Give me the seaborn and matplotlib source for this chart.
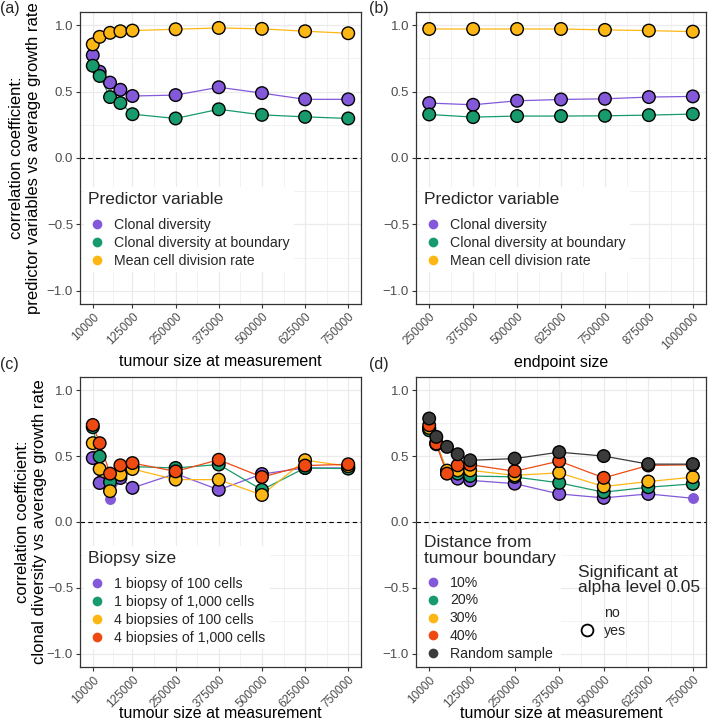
import matplotlib
matplotlib.use("Agg")
from matplotlib import pyplot as plt
from matplotlib.lines import Line2D
import seaborn as sns
import numpy as np
import pandas as pd

# ---- data ----
tumour_size = [10000, 30000, 60000, 90000, 125000, 250000, 375000, 500000, 625000, 750000]
endpoint_size = [250000, 375000, 500000, 625000, 750000, 875000, 1000000]
size_ticks = [10000, 125000, 250000, 375000, 500000, 625000, 750000]
endpoint_ticks = [250000, 375000, 500000, 625000, 750000, 875000, 1000000]

# (a) predictor variables vs tumour size
predictors = ["Clonal diversity", "Clonal diversity at boundary", "Mean cell division rate"]
a_clonal = [0.774, 0.650, 0.568, 0.514, 0.467, 0.474, 0.533, 0.489, 0.442, 0.442]
a_boundary = [0.695, 0.618, 0.459, 0.414, 0.330, 0.298, 0.367, 0.325, 0.310, 0.298]
a_division = [0.856, 0.913, 0.943, 0.955, 0.960, 0.970, 0.980, 0.973, 0.955, 0.940]

# (b) predictor variables vs endpoint size
b_clonal = [0.414, 0.401, 0.431, 0.441, 0.446, 0.459, 0.464]
b_boundary = [0.328, 0.308, 0.316, 0.316, 0.318, 0.323, 0.331]
b_division = [0.972, 0.972, 0.972, 0.972, 0.965, 0.960, 0.952]

# (c) biopsy size
biopsies = ["1 biopsy of 100 cells", "1 biopsy of 1,000 cells",
            "4 biopsies of 100 cells", "4 biopsies of 1,000 cells"]
c_1x100 = [0.485, 0.296, 0.176, 0.334, 0.259, 0.367, 0.244, 0.364, 0.410, 0.410]
c_1x1000 = [0.719, 0.497, 0.302, 0.360, 0.420, 0.410, 0.436, 0.244, 0.410, 0.405]
c_4x100 = [0.598, 0.402, 0.234, 0.359, 0.402, 0.322, 0.321, 0.205, 0.469, 0.423]
c_4x1000 = [0.736, 0.598, 0.367, 0.430, 0.447, 0.384, 0.472, 0.341, 0.428, 0.438]
c_1x100_sig = [1, 1, 0, 1, 1, 1, 1, 1, 1, 1]

# (d) distance from tumour boundary
distances = ["10%", "20%", "30%", "40%", "Random sample"]
d_10 = [0.710, 0.590, 0.370, 0.329, 0.316, 0.291, 0.213, 0.183, 0.213, 0.180]
d_20 = [0.696, 0.600, 0.385, 0.367, 0.349, 0.342, 0.297, 0.226, 0.264, 0.289]
d_30 = [0.714, 0.600, 0.390, 0.392, 0.392, 0.354, 0.373, 0.269, 0.307, 0.340]
d_40 = [0.734, 0.595, 0.367, 0.430, 0.435, 0.385, 0.462, 0.335, 0.429, 0.434]
d_random = [0.785, 0.646, 0.570, 0.514, 0.468, 0.481, 0.530, 0.500, 0.439, 0.439]
d_10_sig = [1, 1, 1, 1, 1, 1, 1, 1, 1, 0]

purple, green, yellow, red, dark = "#8359DA", "#189B6C", "#FDB714", "#EE4A12", "#3B3B3B"


def long_df(x, series, names, sig=None):
    rows = []
    for name, vals in zip(names, series):
        s = sig.get(name, [1] * len(vals)) if sig else [1] * len(vals)
        for xi, v, si in zip(x, vals, s):
            rows.append({"x": xi, "r": v, "group": name, "sig": bool(si)})
    return pd.DataFrame(rows)


df_a = long_df(tumour_size, [a_clonal, a_boundary, a_division], predictors)
df_b = long_df(endpoint_size, [b_clonal, b_boundary, b_division], predictors)
df_c = long_df(tumour_size, [c_1x100, c_1x1000, c_4x100, c_4x1000], biopsies,
               {biopsies[0]: c_1x100_sig})
df_d = long_df(tumour_size, [d_10, d_20, d_30, d_40, d_random], distances,
               {distances[0]: d_10_sig})

sns.set_theme(style="white")
plt.rcParams["font.family"] = ["Liberation Sans", "DejaVu Sans"]

fig = plt.figure(figsize=(7.09, 7.25), dpi=100)
W, H = 709, 725


def box(l, t, r, b):
    return [l / W, 1 - b / H, (r - l) / W, (b - t) / H]


ax_a = fig.add_axes(box(80, 12, 361, 304))
ax_b = fig.add_axes(box(416, 12, 706, 304))
ax_c = fig.add_axes(box(80, 377, 361, 667))
ax_d = fig.add_axes(box(416, 377, 706, 667))


def panel(ax, df, names, colors, ticks, xlabel, xlab_y, ylabel=None, ylab_x=None):
    pal = dict(zip(names, colors))
    lo, hi = min(ticks), max(ticks)
    pad = (hi - lo) * 0.05
    minor = [(ticks[i] + ticks[i + 1]) / 2 for i in range(len(ticks) - 1)]
    ax.set_xticks(minor, minor=True)
    ax.set_yticks([-0.75, -0.25, 0.25, 0.75], minor=True)
    ax.grid(True, which="major", color="#EBEBEB", lw=0.9, zorder=0)
    ax.grid(True, which="minor", color="#EBEBEB", lw=0.45, zorder=0)
    ax.set_axisbelow(True)
    ax.axhline(0, color="black", ls=(0, (4, 3)), lw=0.8, zorder=1)
    sns.lineplot(data=df, x="x", y="r", hue="group", hue_order=names, palette=pal,
                 lw=0.9, legend=False, ax=ax, estimator=None, sort=False, zorder=2)
    ns = df[~df["sig"]]
    if len(ns):
        sns.scatterplot(data=ns, x="x", y="r", hue="group", hue_order=names, palette=pal,
                        s=62, linewidth=0, legend=False, ax=ax, zorder=3)
    sns.scatterplot(data=df[df["sig"]], x="x", y="r", hue="group", hue_order=names,
                    palette=pal, s=82, edgecolor="black", linewidth=1.0,
                    legend=False, ax=ax, zorder=4)
    ax.set_xlim(lo - pad, hi + pad)
    ax.set_ylim(-1.1, 1.1)
    ax.set_xticks(ticks)
    ax.set_xticklabels([str(t) for t in ticks], rotation=45, ha="right",
                       rotation_mode="anchor")
    ax.set_yticks([-1.0, -0.5, 0.0, 0.5, 1.0])
    ax.set_yticklabels(["\u22121.0", "\u22120.5", "0.0", "0.5", "1.0"])
    ax.tick_params(axis="both", which="major", labelcolor="#4D4D4D",
                   color="#333333", length=3, width=0.8, direction="out",
                   bottom=True, left=True, pad=2)
    ax.tick_params(axis="y", labelsize=9.5)
    ax.tick_params(axis="x", labelsize=8.5)
    ax.tick_params(axis="both", which="minor", length=0)
    for sp in ax.spines.values():
        sp.set_color("#333333")
        sp.set_linewidth(0.9)
    ax.set_xlabel(xlabel, fontsize=11.5, color="black", va="center")
    ax.xaxis.set_label_coords(0.5, xlab_y)
    if ylabel:
        ax.set_ylabel(ylabel, fontsize=12, color="black", linespacing=1.2, va="center")
        ax.yaxis.set_label_coords(ylab_x, 0.5)
    else:
        ax.set_ylabel("")
    return pal


def handles_for(names, colors):
    return [Line2D([], [], marker="o", ls="none", markersize=7,
                   markerfacecolor=c, markeredgewidth=0) for c in colors]


leg_kw = dict(frameon=True, facecolor="white", edgecolor="none", framealpha=1,
              fancybox=False, alignment="left", fontsize=10.2, title_fontsize=12.5,
              labelspacing=0.28, handletextpad=0.6, handlelength=1.2,
              borderpad=0.3, borderaxespad=0.3)


def title_gap(leg, pts):
    # a little more room between the legend title and its entries
    leg._legend_box.sep = pts
    return leg


ylab_a = "correlation coefficient:\npredictor variables vs average growth rate"
ylab_c = "correlation coefficient:\nclonal diversity vs average growth rate"

top_xlab = -(362 - 304) / 292
bot_xlab = -(714 - 667) / 290
cols3 = [purple, green, yellow]
panel(ax_a, df_a, predictors, cols3, size_ticks, "tumour size at measurement",
      top_xlab, ylab_a, (25 - 80) / 281)
panel(ax_b, df_b, predictors, cols3, endpoint_ticks, "endpoint size", top_xlab)
panel(ax_c, df_c, biopsies, [purple, green, yellow, red], size_ticks,
      "tumour size at measurement", bot_xlab, ylab_c, (31 - 80) / 281)
panel(ax_d, df_d, distances, [purple, green, yellow, red, dark], size_ticks,
      "tumour size at measurement", bot_xlab)

for ax in (ax_a, ax_b):
    title_gap(ax.legend(handles_for(predictors, cols3), predictors,
                        title="Predictor variable", loc="lower left",
                        bbox_to_anchor=(0.0, 0.095), **leg_kw), 8)
title_gap(ax_c.legend(handles_for(biopsies, [purple, green, yellow, red]), biopsies,
                      title="Biopsy size", loc="lower left",
                      bbox_to_anchor=(0.0, 0.048), **leg_kw), 8)
leg1 = ax_d.legend(handles_for(distances, [purple, green, yellow, red, dark]), distances,
                   title="Distance from\ntumour boundary", loc="lower left",
                   bbox_to_anchor=(0.0, -0.01), **leg_kw)
leg1._legend_title_box._text.set_linespacing(1.05)
title_gap(leg1, 7)
ax_d.add_artist(leg1)
sig_handles = [Line2D([], [], ls="none", marker=None),
               Line2D([], [], marker="o", ls="none", markersize=8.5,
                      markerfacecolor="none", markeredgecolor="black",
                      markeredgewidth=1.3)]
leg2 = ax_d.legend(sig_handles, ["no", "yes"], title="Significant at\nalpha level 0.05",
                   loc="lower left", bbox_to_anchor=(0.53, 0.07), **leg_kw)
leg2._legend_title_box._text.set_linespacing(1.05)
title_gap(leg2, 8)
leg2.get_frame().set_alpha(0)

for lab, x, y in [("(a)", 0.0, 0.988), ("(b)", 0.52, 0.988),
                  ("(c)", 0.0, 0.497), ("(d)", 0.52, 0.497)]:
    fig.text(x, y, lab, fontsize=11.5, ha="left", va="center")

fig.savefig("out.png", dpi=100)
